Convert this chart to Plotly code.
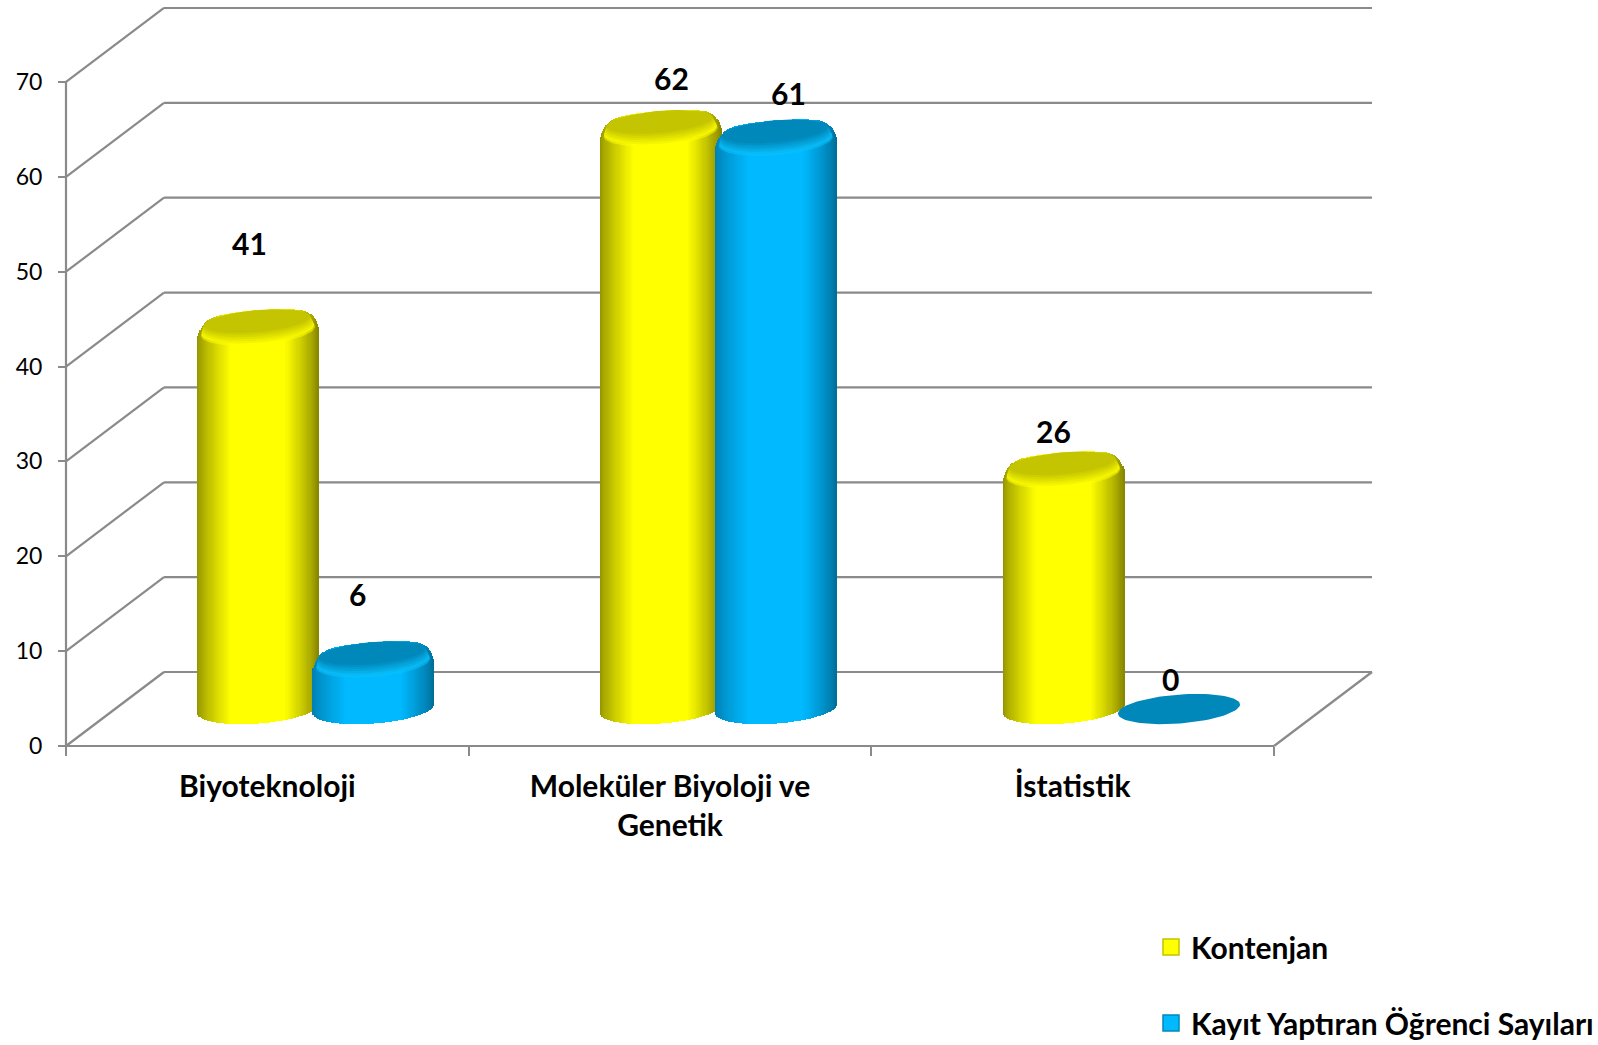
import numpy as np
import plotly.graph_objects as go

# ---- data ----
categories = ["Biyoteknoloji", "Moleküler Biyoloji ve<br>Genetik", "İstatistik"]
kontenjan = [41, 62, 26]
kayit = [6, 61, 0]
y_ticks = [0, 10, 20, 30, 40, 50, 60, 70]
series_names = ["Kontenjan", "Kayıt Yaptıran Öğrenci Sayıları"]

# label nudges (pixels) from each bar top
label_dx = [[-9, 10, -10], [-16, 12, -8]]
label_dy = [[77, 43, 31], [58, 37, 30]]

# ---- chart scale (pixels per data unit) ----
W, H = 1598, 1045
PXX, PXY = 402.67, 9.486
ML, MR, MT, MB = 60, 222, 6, 295
X0, Y0 = 66, 746
FONT = "Lato"
GRID = "#8A8A8A"
DEPTH_X, DEPTH_Y = 98 / PXX, 74 / PXY       # wall offset
BASE_Y = 37 / PXY                           # floor level of the bars
BAR_W = 120 / PXX
OFFS = [0.478, 0.764]
N = 110
LAYERS = 7

STY = [
    dict(edgeL=(150, 150, 0), edgeR=(135, 135, 0), mid=(255, 255, 0), cap=(196, 196, 0), hi=(255, 255, 0)),
    dict(edgeL=(0, 130, 180), edgeR=(0, 112, 155), mid=(0, 185, 255), cap=(0, 136, 186), hi=(10, 195, 255)),
]


def rgb(c):
    return "rgb(%d,%d,%d)" % tuple(c)


def shade(t, s):
    """t in -1..1 across the cylinder"""
    if t < -0.45:
        f = (t + 1) / 0.55
        a = s["edgeL"]
    elif t > 0.45:
        f = (1 - t) / 0.55
        a = s["edgeR"]
    else:
        return rgb(s["mid"])
    f = f ** 0.8
    return rgb([a[i] + (s["mid"][i] - a[i]) * f for i in range(3)])


fig = go.Figure()

# cylinders: one bar trace per series, made of narrow upright strips
ts = np.linspace(-1, 1, N)
strip = BAR_W / (N - 1) * 1.25
for si, vals in enumerate([kontenjan, kayit]):
    xs, bases, heights, cols = [], [], [], []
    for ci, v in enumerate(vals):
        if v == 0:
            continue
        cx = ci + OFFS[si]
        for t in ts:
            tt = t * 0.995
            root = np.sqrt(1 - tt * tt)
            bottom = BASE_Y + (4.5 * tt - 14.5 * root) / PXY
            top = BASE_Y + v + (4.5 * tt + 10 * root - 13 * abs(tt) ** 10) / PXY
            xs.append(cx + t * BAR_W / 2)
            bases.append(bottom)
            heights.append(top - bottom)
            cols.append(shade(t, STY[si]))
    fig.add_trace(go.Bar(x=xs, y=heights, base=bases, width=strip,
                         marker=dict(color=cols, line=dict(width=0)),
                         showlegend=False, hoverinfo="skip"))

# caps: soft ring fading into the dark top
ang = np.linspace(0, 2 * np.pi, 90)
for si, vals in enumerate([kontenjan, kayit]):
    s = STY[si]
    for ci, v in enumerate(vals):
        cx = ci + OFFS[si]
        if v > 0:
            for k in range(LAYERS):
                f = k / (LAYERS - 1)
                a = 57 + (53 - 57) * f
                b = 14 + (11 - 14) * f
                sh = -11 + (-1 - -11) * f
                col = [s["hi"][i] + (s["cap"][i] - s["hi"][i]) * f for i in range(3)]
                ex = cx + (-1 * f - 0.5) / PXX + a * np.cos(ang) / PXX
                ey = BASE_Y + v + (sh + 4.5 * np.cos(ang) + b * np.sin(ang)) / PXY
                fig.add_trace(go.Scatter(x=ex, y=ey, mode="lines", fill="toself", fillcolor=rgb(col),
                                         line=dict(width=0), opacity=0.55 if k == 0 else 1,
                                         showlegend=False, hoverinfo="skip"))
        else:
            ex = cx + 61 * np.cos(ang) / PXX
            ey = BASE_Y + v + (4.5 * np.cos(ang) + 14.5 * np.sin(ang)) / PXY
            fig.add_trace(go.Scatter(x=ex, y=ey, mode="lines", fill="toself", fillcolor=rgb(s["cap"]),
                                     line=dict(width=0), showlegend=False, hoverinfo="skip"))

# legend entries
for si, name in enumerate(series_names):
    fig.add_trace(go.Scatter(x=[None], y=[None], mode="markers", name=name, legendgroup=name,
                             marker=dict(symbol="square", size=16, color=rgb(STY[si]["mid"]),
                                         line=dict(width=1.5, color=rgb(STY[si]["cap"])))))

# walls (under the bars)
shapes = []
ncat = len(categories)
ln = dict(color=GRID, width=2.2)
for v in y_ticks:
    shapes.append(dict(type="line", layer="below", xref="x", yref="y", x0=0, y0=v,
                       x1=DEPTH_X, y1=v + DEPTH_Y, line=ln))
    shapes.append(dict(type="line", layer="below", xref="x", yref="y", x0=DEPTH_X, y0=v + DEPTH_Y,
                       x1=ncat + DEPTH_X, y1=v + DEPTH_Y, line=ln))
shapes.append(dict(type="line", layer="below", xref="x", yref="y", x0=0, y0=0, x1=0, y1=y_ticks[-1], line=ln))
shapes.append(dict(type="line", layer="below", xref="x", yref="y", x0=0, y0=0, x1=ncat, y1=0, line=ln))
shapes.append(dict(type="line", layer="below", xref="x", yref="y", x0=ncat, y0=0,
                   x1=ncat + DEPTH_X, y1=DEPTH_Y, line=ln))

# value labels
annotations = []
for si, vals in enumerate([kontenjan, kayit]):
    for ci, v in enumerate(vals):
        annotations.append(dict(x=ci + OFFS[si], y=BASE_Y + v, xref="x", yref="y", text=str(v),
                                showarrow=False, xshift=label_dx[si][ci], yshift=label_dy[si][ci],
                                font=dict(family=FONT, size=30, color="black", weight="bold")))

plot_w = W - ML - MR
plot_h = H - MT - MB
fig.update_layout(
    width=W, height=H, autosize=False,
    margin=dict(l=ML, r=MR, t=MT, b=MB, pad=0, autoexpand=False),
    paper_bgcolor="white", plot_bgcolor="white",
    barmode="overlay", bargap=0,
    shapes=shapes, annotations=annotations,
    font=dict(family=FONT, color="black"),
    legend=dict(x=(1151 - ML) / plot_w, xanchor="left", y=(H - MB - 921) / plot_h, yanchor="top",
                tracegroupgap=34, bgcolor="rgba(0,0,0,0)",
                font=dict(family=FONT, size=30, color="black", weight="bold")),
    xaxis=dict(range=[(ML - X0) / PXX, (W - MR - X0) / PXX], showgrid=False, zeroline=False,
               showline=False, anchor="free", position=(H - MB - Y0) / plot_h,
               tickmode="array", tickvals=[i + 0.5 for i in range(ncat)], ticktext=categories,
               ticks="", ticklabelstandoff=20,
               tickfont=dict(family=FONT, size=30, color="black", weight="bold"),
               minor=dict(tickmode="array", tickvals=list(range(ncat + 1)), ticks="outside",
                          ticklen=9, tickwidth=2, tickcolor=GRID, showgrid=False)),
    yaxis=dict(range=[(Y0 - (H - MB)) / PXY, (Y0 - MT) / PXY], showgrid=False, zeroline=False,
               showline=False, anchor="free", position=(X0 - ML) / plot_w,
               tickmode="array", tickvals=y_ticks, ticks="outside", ticklen=8, tickwidth=2,
               tickcolor=GRID, ticklabelstandoff=11,
               tickfont=dict(family=FONT, size=23, color="black")),
)

fig.write_html("out.html", post_script="document.body.style.margin='0';",
               config=dict(displayModeBar=False))
